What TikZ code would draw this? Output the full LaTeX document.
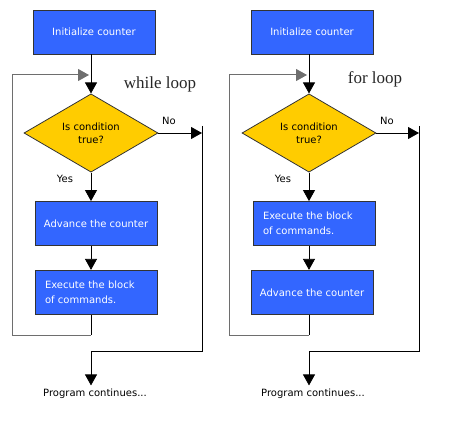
\documentclass[tikz,border=0pt]{standalone}
\usepackage{fontspec}
\setmainfont{DejaVu Sans}
\newfontfamily\loopfont{Liberation Serif}
\usetikzlibrary{shapes.geometric,positioning,arrows.meta}

\definecolor{boxblue}{RGB}{51,102,255}
\definecolor{condyellow}{RGB}{255,204,0}
\definecolor{backgray}{RGB}{110,110,110}

\begin{document}
\begin{tikzpicture}[x=1pt,y=-1pt,line width=0.8pt,
  stepbox/.style={
   draw=black!80,
   fill=boxblue,
   text=white,
   minimum width=122pt,
   minimum height=44pt,
   align=center,
   font=\fontsize{10}{15}\selectfont
  },
  longbox/.style={
   stepbox,
   inner xsep=10pt,
   text width=102pt,
   align=left
  },
  cond/.style={
   draw=black!80,
   fill=condyellow,
   diamond,
   inner sep=0pt,
   minimum width=134pt,
   minimum height=66pt,
   align=center,
   font=\fontsize{10}{13}\selectfont
  },
  flow/.style={-{Triangle[width=12pt,length=11pt]}},
  back/.style={draw=backgray,line width=1pt},
  lbl/.style={font=\fontsize{10}{12}\selectfont},
  title/.style={font=\loopfont\fontsize{17}{20}\selectfont,text=black!85},
  node distance=24pt]
  \useasboundingbox (0,0) rectangle (465,430);

  % while loop
  \node[stepbox] (wInit) at (94,32)
    {Initialize counter};
  \node[cond] (wCond) at (91,133)
    {Is condition\\true?};
  \node[stepbox] (wAdv) at (96,223.5)
    {Advance the counter};
  \node[longbox,below=of wAdv.south,anchor=north] (wExec)
    {Execute the block\\of commands.};
  \node[title] (wTitle) at (160,84) {while loop};
  \node[lbl] (wNo) at (169,121) {No};
  \node[lbl] (wYes) at (65,179) {Yes};
  \node[lbl] (wEnd) at (95,394) {Program continues...};
  \coordinate (wMerge) at (91,75);
  \coordinate (wLoop) at (91,335);
  \coordinate (wOut) at (202,133);
  \coordinate (wJoin) at (91,351);

  \draw[flow] (wInit.south -| wMerge) -- (wCond.north);
  \draw[flow] (wCond.south) -- (wCond.south |- wAdv.north);
  \draw[flow] (wAdv.south -| wCond) -- (wExec.north -| wCond);
  \draw (wExec.south -| wLoop) -- (wLoop);
  \draw[back] (wLoop) -- (12,335) -- (12,75);
  \draw[back,flow] (12,75) -- ([xshift=-2pt]wMerge);
  \draw[flow] (wCond.east) -- (wOut);
  \draw ([yshift=7pt]wOut) |- (wJoin);
  \draw[flow] (wJoin) -- (wJoin |- wEnd.north);

  % for loop
  \node[stepbox] (fInit) at (312,32)
    {Initialize counter};
  \node[cond] (fCond) at (309,133)
    {Is condition\\true?};
  \node[longbox] (fExec) at (314,223.5)
    {Execute the block\\of commands.};
  \node[stepbox,below=of fExec.south,anchor=north,xshift=-2pt] (fAdv)
    {Advance the counter};
  \node[title] (fTitle) at (375,79) {for loop};
  \node[lbl] (fNo) at (387,121) {No};
  \node[lbl] (fYes) at (283,179) {Yes};
  \node[lbl] (fEnd) at (313,394) {Program continues...};
  \coordinate (fMerge) at (309,75);
  \coordinate (fLoop) at (309,335);
  \coordinate (fOut) at (419,133);
  \coordinate (fJoin) at (309,351);

  \draw[flow] (fInit.south -| fMerge) -- (fCond.north);
  \draw[flow] (fCond.south) -- (fCond.south |- fExec.north);
  \draw[flow] (fExec.south -| fCond) -- (fAdv.north -| fCond);
  \draw (fAdv.south -| fLoop) -- (fLoop);
  \draw[back] (fLoop) -- (229,335) -- (229,75);
  \draw[back,flow] (229,75) -- ([xshift=-2pt]fMerge);
  \draw[flow] (fCond.east) -- (fOut);
  \draw ([yshift=7pt]fOut) |- (fJoin);
  \draw[flow] (fJoin) -- (fJoin |- fEnd.north);
\end{tikzpicture}
\end{document}
